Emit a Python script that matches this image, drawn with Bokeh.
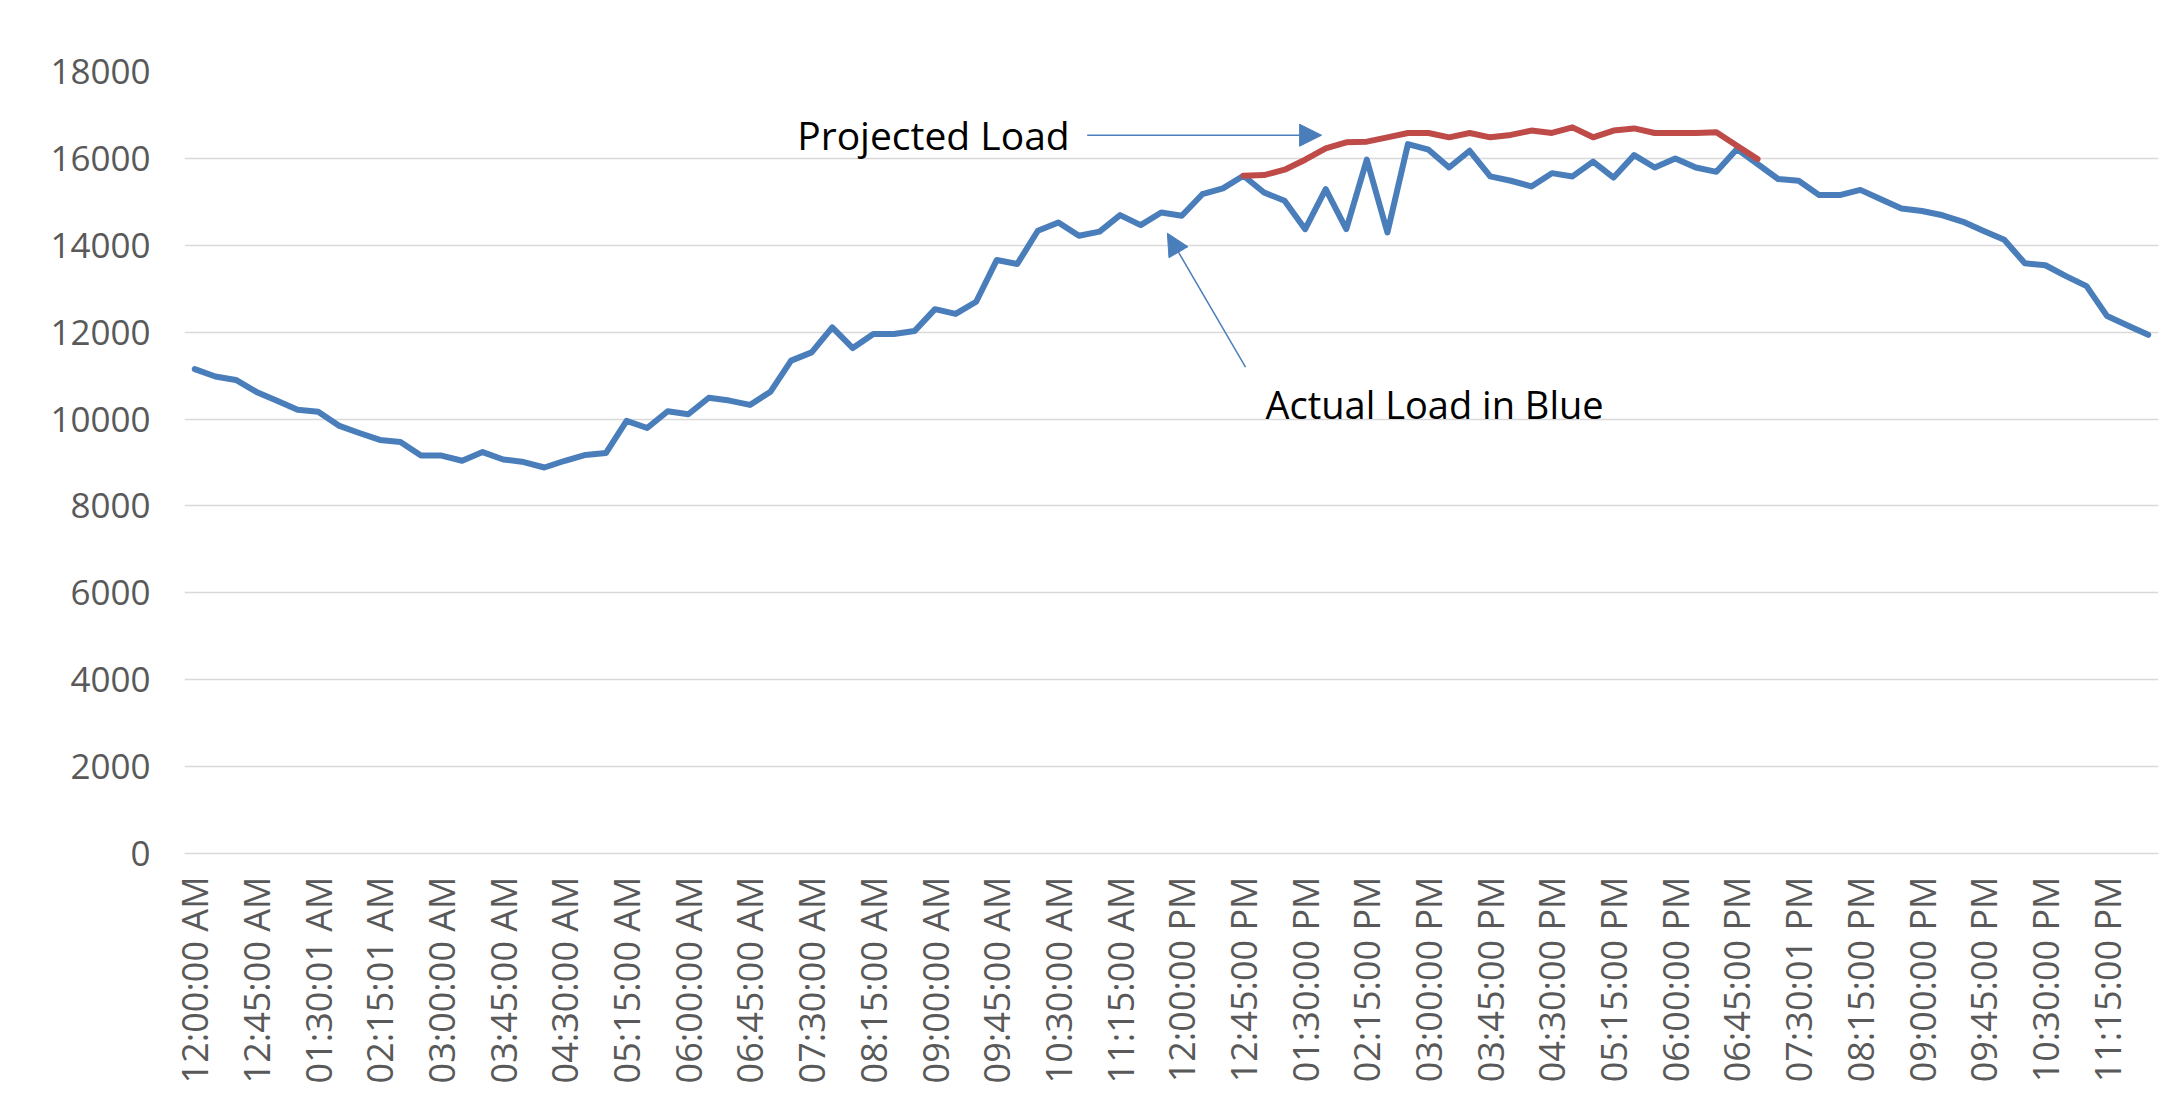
import math
from bokeh.plotting import figure
from bokeh.models import Range1d, FixedTicker, PrintfTickFormatter, Arrow, NormalHead, Label, ColumnDataSource
from bokeh.embed import file_html
from bokeh.resources import INLINE

# ---------------- data ----------------
actual = [11150, 10980, 10900, 10625, 10420, 10215, 10170, 9850, 9680, 9520,
          9470, 9160, 9160, 9040, 9240, 9070, 9010, 8885, 9040, 9175,
          9220, 9960, 9795, 10180, 10110, 10490, 10425, 10325, 10630, 11345,
          11535, 12110, 11635, 11960, 11960, 12025, 12530, 12420, 12700, 13660,
          13570, 14335, 14525, 14220, 14315, 14695, 14465, 14755, 14680, 15175,
          15310, 15600, 15215, 15025, 14370, 15290, 14370, 15970, 14295, 16330,
          16200, 15790, 16175, 15585, 15485, 15355, 15660, 15585, 15925, 15560,
          16075, 15790, 16000, 15790, 15690, 16215, 15870, 15525, 15485, 15155,
          15155, 15275, 15060, 14845, 14790, 14690, 14540, 14330, 14125, 13585,
          13540, 13290, 13060, 12370, 12155, 11940]

projected = [None] * 51 + [
          15600, 15615, 15740, 15970, 16230, 16370, 16385, 16485, 16585, 16585,
          16485, 16585, 16485, 16540, 16640, 16585, 16715, 16485, 16640, 16690,
          16585, 16585, 16585, 16600, 16290, 15985] + [None] * 19

tick_labels = ["12:00:00 AM", "12:45:00 AM", "01:30:01 AM", "02:15:01 AM",
               "03:00:00 AM", "03:45:00 AM", "04:30:00 AM", "05:15:00 AM",
               "06:00:00 AM", "06:45:00 AM", "07:30:00 AM", "08:15:00 AM",
               "09:00:00 AM", "09:45:00 AM", "10:30:00 AM", "11:15:00 AM",
               "12:00:00 PM", "12:45:00 PM", "01:30:00 PM", "02:15:00 PM",
               "03:00:00 PM", "03:45:00 PM", "04:30:00 PM", "05:15:00 PM",
               "06:00:00 PM", "06:45:00 PM", "07:30:01 PM", "08:15:00 PM",
               "09:00:00 PM", "09:45:00 PM", "10:30:00 PM", "11:15:00 PM"]
label_every = 3
y_ticks = list(range(0, 18001, 2000))

# ---------------- figure ----------------
n = len(actual)
idx = list(range(n))
proj_vals = [float("nan") if v is None else v for v in projected]
src = ColumnDataSource(dict(x=idx, actual=actual, projected=proj_vals))

p = figure(width=2161, height=1104, output_backend="svg", toolbar_location=None,
           x_range=Range1d(-0.5, n - 0.5), y_range=Range1d(0, 18000),
           min_border_left=184, min_border_right=3, min_border_top=71,
           min_border_bottom=251)
p.outline_line_color = None
p.background_fill_color = "white"
p.border_fill_color = "white"

p.xgrid.visible = False
p.ygrid.grid_line_color = "#d9d9d9"
p.ygrid.grid_line_width = 1.5
p.ygrid.ticker = FixedTicker(ticks=y_ticks)

p.yaxis.ticker = FixedTicker(ticks=y_ticks)
p.yaxis.formatter = PrintfTickFormatter(format="%d")
p.yaxis.axis_line_color = None
p.yaxis.major_tick_line_color = None
p.yaxis.minor_tick_line_color = None
p.yaxis.major_label_standoff = 28
p.yaxis.major_label_text_font = "Open Sans"
p.yaxis.major_label_text_font_size = "35px"
p.yaxis.major_label_text_color = "#595959"

xt = list(range(0, n, label_every))[:len(tick_labels)]
p.xaxis.ticker = FixedTicker(ticks=xt)
p.xaxis.major_label_overrides = {t: lab for t, lab in zip(xt, tick_labels)}
p.xaxis.major_label_orientation = math.pi / 2
p.xaxis.axis_line_color = "#d9d9d9"
p.xaxis.axis_line_width = 1.5
p.xaxis.major_tick_line_color = None
p.xaxis.minor_tick_line_color = None
p.xaxis.major_label_standoff = 17
p.xaxis.major_label_text_font = "Open Sans"
p.xaxis.major_label_text_font_size = "36px"
p.xaxis.major_label_text_color = "#595959"

p.line("x", "actual", source=src, line_color="#4a7ebb", line_width=6,
       line_join="round", line_cap="round")
p.line("x", "projected", source=src, line_color="#be4b48", line_width=6,
       line_join="round", line_cap="round")

# ---------------- annotations ----------------
arrow_col = "#4a7ebb"
p.add_layout(Arrow(end=NormalHead(size=22, fill_color=arrow_col, line_color=arrow_col),
                   x_start=43.4, y_start=16533, x_end=54.8, y_end=16533,
                   line_color=arrow_col, line_width=1.5))
p.add_layout(Arrow(end=NormalHead(size=22, fill_color=arrow_col, line_color=arrow_col),
                   x_start=51.1, y_start=11195, x_end=47.3, y_end=14278,
                   line_color=arrow_col, line_width=1.5))
p.add_layout(Label(x=29.3, y=16556, text="Projected Load", text_font="Open Sans",
                   text_font_size="39px", text_color="#000000", text_baseline="middle"))
p.add_layout(Label(x=52.07, y=10343, text="Actual Load in Blue", text_font="Open Sans",
                   text_font_size="38px", text_color="#000000", text_baseline="middle"))

open("out.html", "w").write(file_html(p, INLINE))
